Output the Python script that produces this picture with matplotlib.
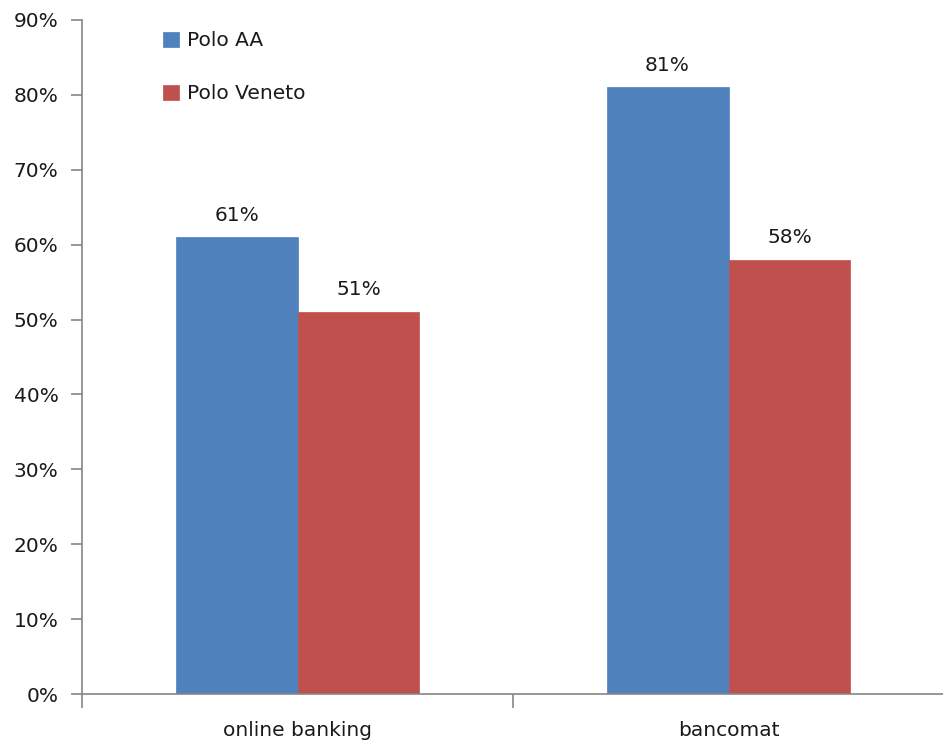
import matplotlib
matplotlib.use("Agg")
import matplotlib.pyplot as plt
import numpy as np

categories = ["online banking", "bancomat"]
series_names = ["Polo AA", "Polo Veneto"]
polo_aa = [61, 81]
polo_veneto = [51, 58]
colors = ["#4F81BD", "#C0504D"]
yticks = [0, 10, 20, 30, 40, 50, 60, 70, 80, 90]

FS = 14.5
plt.rcParams['font.family'] = ['DejaVu Sans']
fig = plt.figure(figsize=(9.43, 7.41), dpi=100)
ax = fig.add_axes([82/943, 47/741, 862/943, (694-20)/741])

x = np.arange(len(categories))
w = 0.283
series = [polo_aa, polo_veneto]
for i, (vals, name, c) in enumerate(zip(series, series_names, colors)):
    pos = x + (i - 0.5) * w
    bars = ax.bar(pos, vals, width=w, color=c, label=name, edgecolor=c, linewidth=0.5)
    for b, v in zip(bars, vals):
        ax.annotate(f"{v}%", (b.get_x() + b.get_width()/2, v), xytext=(0, 12),
                    textcoords="offset points", ha="center", va="baseline", fontsize=FS, color="#1a1a1a")

ax.set_xlim(-0.5, 1.5)
ax.set_ylim(0, 90)
ax.set_yticks(yticks)
ax.set_yticklabels([f"{t}%" for t in yticks], fontsize=FS, color="#1a1a1a")
ax.set_xticks(x)
ax.set_xticklabels(categories, fontsize=FS, color="#1a1a1a")
ax.set_xticks([-0.5, 0.5, 1.5], minor=True)
ax.tick_params(axis='x', which='major', length=0, pad=19.5)
ax.tick_params(axis='x', which='minor', length=10, color="#868686", width=1.2)
ax.tick_params(axis='y', which='major', length=8, color="#868686", width=1.2, pad=9)
for s in ["top", "right"]:
    ax.spines[s].set_visible(False)
for s in ["left", "bottom"]:
    ax.spines[s].set_color("#868686")
    ax.spines[s].set_linewidth(1.2)

leg = ax.legend(loc="upper left", bbox_to_anchor=((163-82)/862, 0.983), frameon=False,
                fontsize=FS, handlelength=0.8, handleheight=0.75, handletextpad=0.4,
                labelspacing=1.68, borderpad=0, borderaxespad=0)
for t in leg.get_texts():
    t.set_color("#1a1a1a")

fig.savefig("out.png", dpi=100)
